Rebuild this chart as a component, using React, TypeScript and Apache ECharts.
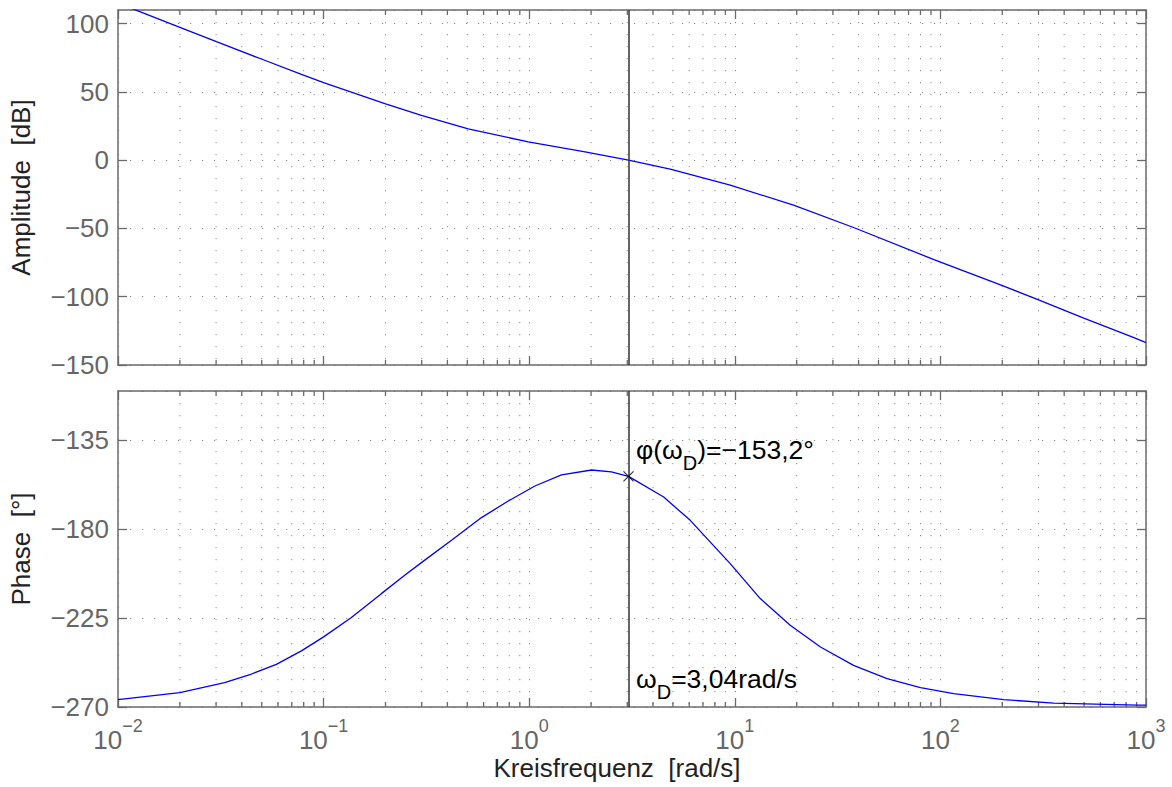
import React, { useEffect, useRef } from "react";
import * as echarts from "echarts";

// ---- data ----
const freqAmp = [0.01, 0.01205, 0.02, 0.0301, 0.0498, 0.078, 0.1, 0.1985, 0.299, 0.505, 0.989, 1.87, 3.04, 4.85, 9.5, 19.3, 37.8, 93, 196, 296, 498, 873, 1000];
const ampDb = [115, 110.2, 97.3, 86.8, 74.1, 62.9, 56.8, 41.5, 32.9, 22.9, 13.4, 6.1, 0, -6.6, -18.3, -32.9, -49.3, -72.8, -91.3, -102, -115.6, -130, -133.6];

const freqPhase = [0.01, 0.02, 0.033, 0.0446, 0.0589, 0.078, 0.1, 0.136, 0.191, 0.248, 0.299, 0.419, 0.586, 0.791, 1.066, 1.436, 2.01, 2.51, 3.04, 4.51, 6.07, 9.5, 13.3, 18.6, 26.1, 37.8, 55, 80, 116, 203, 356, 906, 1000];
const phaseDeg = [-266.3, -262.7, -257.7, -253.3, -248.4, -241.6, -234.5, -224.8, -212.6, -203.3, -196.9, -185.6, -174.1, -165.7, -158.1, -152.5, -150.0, -151.0, -153.2, -163.7, -175.5, -197.4, -215.1, -228.6, -239.6, -248.9, -255.6, -260.2, -263.2, -266.3, -268.0, -269.0, -269.1];

const omegaD = 3.04;
const phiD = -153.2;

const ampMin = -150, ampMax = 110, ampStep = 50;
const phMin = -270, phMax = -110, phStep = 45;
const xMin = 0.01, xMax = 1000;

// minor tick positions of the log axis (2..9 per decade)
const decades = [0.01, 0.1, 1, 10, 100];
const minorMult = [2, 3, 4, 5, 6, 7, 8, 9];

const FONT = "Liberation Sans, Arial, sans-serif";
const AXIS_COLOR = "#6a6a6a";
const GRID_COLOR = "#8a8a8a";
const LABEL_COLOR = "#666666";

const minus = (v: number) => String(v).replace("-", "\u2212");

export default function App() {
  const ref = useRef<HTMLDivElement>(null);
  useEffect(() => {
    document.body.style.margin = "0";
    const chart = echarts.init(ref.current!, null, { renderer: "svg" });

    const minorTicks: number[] = [];
    decades.forEach((d) => minorMult.forEach((m) => minorTicks.push(+(d * m).toPrecision(3))));

    const makeMinor = (xi: number, yi: number, yLo: number, yHi: number) => ({
      type: "custom",
      xAxisIndex: xi,
      yAxisIndex: yi,
      z: 1,
      silent: true,
      clip: false,
      data: minorTicks.map((t) => [t, yLo]),
      renderItem: (params: any, api: any) => {
        const v = api.value(0);
        const pt = api.coord([v, yHi]);
        const pb = api.coord([v, yLo]);
        return {
          type: "group",
          children: [
            { type: "line", shape: { x1: pt[0], y1: pt[1], x2: pb[0], y2: pb[1] }, style: { stroke: GRID_COLOR, lineWidth: 1, lineDash: [1.2, 10.8] } },
            { type: "line", shape: { x1: pb[0], y1: pb[1], x2: pb[0], y2: pb[1] - 5 }, style: { stroke: AXIS_COLOR, lineWidth: 1.3 } },
            { type: "line", shape: { x1: pt[0], y1: pt[1], x2: pt[0], y2: pt[1] + 5 }, style: { stroke: AXIS_COLOR, lineWidth: 1.3 } },
          ],
        };
      },
    });

    const baseAxisLine = { show: true, lineStyle: { color: AXIS_COLOR, width: 1.5 } };
    const tick = { show: true, inside: true, length: 9, lineStyle: { color: AXIS_COLOR, width: 1.3 } };
    const dotted = { show: true, lineStyle: { color: GRID_COLOR, width: 1, type: [1.2, 10.8] } };

    const xLog = (gridIndex: number, position: string, extra: any = {}) => ({
      type: "log",
      logBase: 10,
      gridIndex,
      position,
      min: xMin,
      max: xMax,
      splitNumber: 5,
      axisLine: { ...baseAxisLine, onZero: false },
      axisTick: tick,
      axisLabel: { show: false },
      splitLine: { show: false },
      ...extra,
    });

    const yLin = (gridIndex: number, position: string, min: number, max: number, step: number, extra: any = {}) => ({
      type: "value",
      gridIndex,
      position,
      min,
      max,
      interval: step,
      axisLine: baseAxisLine,
      axisTick: tick,
      axisLabel: { show: false },
      splitLine: { show: false },
      ...extra,
    });

    const vLine = {
      silent: true,
      symbol: ["none", "none"],
      label: { show: false },
      lineStyle: { color: "#333333", width: 1.5, type: "solid" },
      data: [{ xAxis: omegaD }],
    };

    const yLabel = { show: true, showMaxLabel: false, margin: 9, fontSize: 26, color: LABEL_COLOR, fontFamily: FONT, formatter: minus };
    const yName = { fontSize: 26, color: "#222", fontFamily: FONT };

    const annRich = {
      m: { fontSize: 26.5, fontFamily: FONT, fill: "#000", lineHeight: 31, verticalAlign: "top" },
      s: { fontSize: 20, fontFamily: FONT, fill: "#000", lineHeight: 22, padding: [17, 0, 0, 0], verticalAlign: "top" },
    };

    chart.setOption({
      animation: false,
      backgroundColor: "#ffffff",
      textStyle: { fontFamily: FONT },
      grid: [
        { left: 118, top: 10, width: 1028, height: 355 },
        { left: 118, top: 391, width: 1028, height: 316 },
      ],
      xAxis: [
        xLog(0, "bottom", { splitLine: dotted }),
        xLog(1, "bottom", {
          splitLine: dotted,
          name: "Kreisfrequenz  [rad/s]",
          nameLocation: "middle",
          nameGap: 48,
          nameTextStyle: { fontSize: 26, color: "#222", fontFamily: FONT, verticalAlign: "top", padding: [0, 30, 0, 0] },
          axisLabel: {
            show: true,
            margin: 10,
            formatter: (v: number) => `{b|10}{e|${minus(Math.round(Math.log10(v)))}}`,
            rich: {
              b: { fontSize: 26, color: LABEL_COLOR, fontFamily: FONT, lineHeight: 36, verticalAlign: "bottom" },
              e: { fontSize: 18, color: LABEL_COLOR, fontFamily: FONT, verticalAlign: "top" },
            },
          },
        }),
        xLog(0, "top"),
        xLog(1, "top"),
      ],
      yAxis: [
        yLin(0, "left", ampMin, ampMax, ampStep, {
          splitLine: dotted,
          axisLabel: yLabel,
          name: "Amplitude  [dB]",
          nameLocation: "middle",
          nameGap: 84,
          nameRotate: 90,
          nameTextStyle: yName,
        }),
        yLin(0, "right", ampMin, ampMax, ampStep),
        yLin(1, "left", phMin, phMax, phStep, {
          splitLine: dotted,
          axisLabel: yLabel,
          name: "Phase  [\u00b0]",
          nameLocation: "middle",
          nameGap: 84,
          nameRotate: 90,
          nameTextStyle: yName,
        }),
        yLin(1, "right", phMin, phMax, phStep),
      ],
      series: [
        makeMinor(0, 0, ampMin, ampMax),
        makeMinor(1, 2, phMin, phMax),
        {
          type: "line",
          xAxisIndex: 0,
          yAxisIndex: 0,
          z: 3,
          showSymbol: false,
          symbol: "none",
          lineStyle: { color: "#0000ff", width: 1.3 },
          data: freqAmp.map((f, i) => [f, ampDb[i]]),
          markLine: vLine,
        },
        {
          type: "line",
          xAxisIndex: 1,
          yAxisIndex: 2,
          z: 3,
          showSymbol: false,
          symbol: "none",
          lineStyle: { color: "#0000ff", width: 1.3 },
          data: freqPhase.map((f, i) => [f, phaseDeg[i]]),
          markLine: vLine,
        },
        {
          type: "scatter",
          xAxisIndex: 1,
          yAxisIndex: 2,
          z: 5,
          symbol: "path://M0,0L10,10M10,0L0,10",
          symbolSize: 10,
          itemStyle: { color: "none", borderColor: "#000", borderWidth: 1.2 },
          data: [[omegaD, phiD]],
        },
      ],
      graphic: [
        {
          type: "text",
          x: 636,
          y: 436,
          z: 10,
          style: {
            text: "{m|\u03c6(\u03c9}{s|D}{m|)=\u2212153,2\u00b0}",
            fill: "#000",
            font: `26.5px ${FONT}`,
            verticalAlign: "top",
            rich: annRich,
          },
        },
        {
          type: "text",
          x: 636,
          y: 665,
          z: 10,
          style: {
            text: "{m|\u03c9}{s|D}{m|=3,04rad/s}",
            fill: "#000",
            font: `26.5px ${FONT}`,
            verticalAlign: "top",
            rich: annRich,
          },
        },
      ],
    });
    return () => chart.dispose();
  }, []);
  return <div ref={ref} style={{ width: 1172, height: 787 }} />;
}
